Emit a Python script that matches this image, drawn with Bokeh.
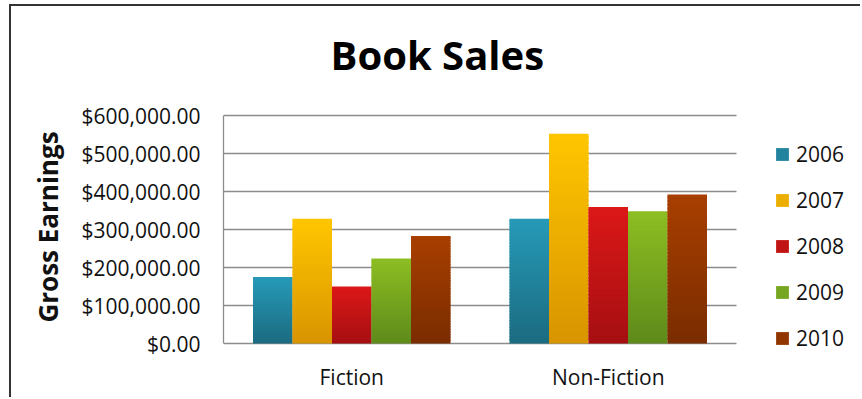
from bokeh.plotting import figure
from bokeh.models import (ColumnDataSource, Range1d, Legend, LegendItem,
                          NumeralTickFormatter)
from bokeh.embed import file_html
from bokeh.resources import INLINE

# ---------------- data ----------------
title_text = "Book Sales"
y_axis_label = "Gross Earnings"
categories = ["Fiction", "Non-Fiction"]
years = ["2006", "2007", "2008", "2009", "2010"]
sales_2006 = [175000, 328000]
sales_2007 = [328000, 552000]
sales_2008 = [150000, 359000]
sales_2009 = [224000, 348000]
sales_2010 = [283000, 392000]
y_ticks = [0, 100000, 200000, 300000, 400000, 500000, 600000]

series = [sales_2006, sales_2007, sales_2008, sales_2009, sales_2010]

# ---------------- style ----------------
top_colors = ["#269ab8", "#ffc600", "#dc1818", "#8dbe22", "#a83f00"]
bottom_colors = ["#1b6b80", "#d99400", "#a50f12", "#5e8a1b", "#7a2c00"]
FONT = "Open Sans"
TXT = "#111111"
GRID = "#8c8c8c"
N_SLICES = 40
BAR_W = 0.154
W, H = 851, 393
BORDER_L, BORDER_B, BORDER_T = 212, 46, 94
DATA_PX = 513          # pixel width occupied by the category slots
PLOT_PX_H = 228        # pixel height of the value axis (0 .. top tick)
PAD_TOP_PX, PAD_BOTTOM_PX = 15, 10
Y_TOP = y_ticks[-1]
px_per_unit_y = PLOT_PX_H / Y_TOP
Y_MIN = -PAD_BOTTOM_PX / px_per_unit_y
Y_MAX = Y_TOP + PAD_TOP_PX / px_per_unit_y
X_MAX = len(categories) * (W - BORDER_L) / DATA_PX


def mix(c0, c1, t):
    a = [int(c0[i:i + 2], 16) for i in (1, 3, 5)]
    b = [int(c1[i:i + 2], 16) for i in (1, 3, 5)]
    return "#%02x%02x%02x" % tuple(round(a[j] + (b[j] - a[j]) * t) for j in range(3))


p = figure(
    x_range=Range1d(0, X_MAX),
    y_range=Range1d(Y_MIN, Y_MAX),
    width=W, height=H,
    output_backend="svg", toolbar_location=None,
    min_border_left=BORDER_L, min_border_right=0,
    min_border_top=BORDER_T, min_border_bottom=BORDER_B,
)
p.styles = {"margin-left": "9px", "margin-top": "4px",
            "border-top": "2px solid #333333", "border-left": "2px solid #333333"}
p.outline_line_color = None
p.background_fill_color = "white"
p.border_fill_color = "white"
p.xgrid.visible = False
p.ygrid.visible = False

# title
p.title.text = title_text
p.title.align = "left"
p.title.offset = 107
p.title.standoff = 37
p.title.text_font = FONT
p.title.text_font_size = "40px"
p.title.text_font_style = "bold"
p.title.text_color = "black"

# horizontal gridlines across the category slots
p.segment(x0=0, x1=len(categories), y0=y_ticks, y1=y_ticks,
          line_color=GRID, line_width=1.3)

# bars (vertical gradient built from overlapping slices of each value)
items = []
for i, (yr, vals) in enumerate(zip(years, series)):
    xs, bots, tops, cols = [], [], [], []
    for j, v in enumerate(vals):
        for k in range(N_SLICES):
            xs.append(j + 0.5 + (i - 2) * BAR_W)
            bots.append(v * k / N_SLICES)
            tops.append(min(v, v * (k + 1.6) / N_SLICES))
            cols.append(mix(bottom_colors[i], top_colors[i], (k + 0.5) / N_SLICES))
    src = ColumnDataSource(dict(x=xs, bottom=bots, top=tops, color=cols))
    r = p.vbar(x="x", bottom="bottom", top="top", width=BAR_W, source=src,
               fill_color="color", line_color=None)
    items.append(LegendItem(label=yr, renderers=[r], index=N_SLICES // 2))

# y axis
p.yaxis.ticker = y_ticks
p.yaxis.bounds = (0, Y_TOP)
p.yaxis.formatter = NumeralTickFormatter(format="$0,0.00")
p.yaxis.major_tick_out = 0
p.yaxis.major_tick_in = 0
p.yaxis.minor_tick_line_color = None
p.yaxis.axis_line_color = GRID
p.yaxis.axis_line_width = 1.3
p.yaxis.major_label_standoff = 23
p.yaxis.major_label_text_font = FONT
p.yaxis.major_label_text_font_size = "21px"
p.yaxis.major_label_text_color = TXT
p.yaxis.axis_label = y_axis_label
p.yaxis.axis_label_text_font = FONT
p.yaxis.axis_label_text_font_size = "26px"
p.yaxis.axis_label_text_font_style = "bold"
p.yaxis.axis_label_text_color = TXT
p.yaxis.axis_label_standoff = 12

# x axis (category labels)
cat_ticks = [j + 0.5 for j in range(len(categories))]
p.xaxis.ticker = cat_ticks
p.xaxis.major_label_overrides = {t: c for t, c in zip(cat_ticks, categories)}
p.xaxis.minor_tick_line_color = None
p.xaxis.major_tick_out = 0
p.xaxis.major_tick_in = 0
p.xaxis.axis_line_color = None
p.xaxis.major_label_standoff = 9
p.xaxis.major_label_text_font = FONT
p.xaxis.major_label_text_font_size = "21px"
p.xaxis.major_label_text_color = TXT

legend = Legend(items=items, location=(551, 1), orientation="vertical",
                glyph_width=16, glyph_height=16, label_height=24, spacing=18,
                label_standoff=6, padding=0, margin=0,
                border_line_color=None, background_fill_alpha=0,
                label_text_font=FONT, label_text_font_size="21px",
                label_text_color=TXT)
p.add_layout(legend)

open("out.html", "w").write(file_html(p, INLINE))
